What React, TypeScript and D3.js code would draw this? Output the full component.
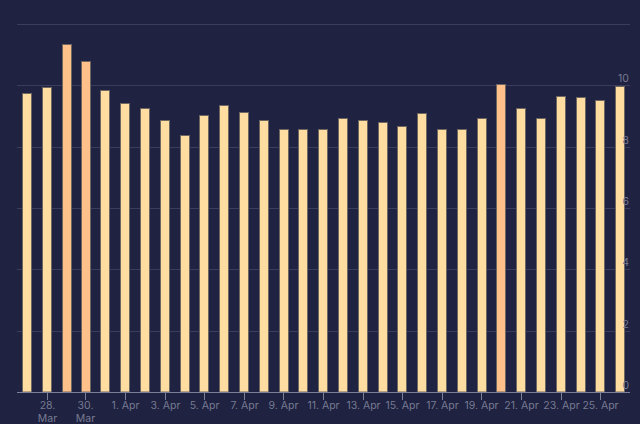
import React from "react";
import * as d3 from "d3";

const DATES = [
  "2020-03-27","2020-03-28","2020-03-29","2020-03-30","2020-03-31",
  "2020-04-01","2020-04-02","2020-04-03","2020-04-04","2020-04-05",
  "2020-04-06","2020-04-07","2020-04-08","2020-04-09","2020-04-10",
  "2020-04-11","2020-04-12","2020-04-13","2020-04-14","2020-04-15",
  "2020-04-16","2020-04-17","2020-04-18","2020-04-19","2020-04-20",
  "2020-04-21","2020-04-22","2020-04-23","2020-04-24","2020-04-25",
  "2020-04-26",
];
const VALUES = [
  9.74, 9.94, 11.34, 10.78, 9.84, 9.41, 9.25, 8.86, 8.39, 9.04,
  9.36, 9.12, 8.86, 8.56, 8.59, 8.56, 8.92, 8.86, 8.80, 8.66,
  9.10, 8.59, 8.56, 8.92, 10.03, 9.25, 8.92, 9.66, 9.63, 9.51,
  9.98,
];
const Y_TICKS = [0, 2, 4, 6, 8, 10, 12];
const Y_LABELS = [0, 2, 4, 6, 8, 10];
const THRESHOLD = 10;
const MONTHS = ["Jan","Feb","Mar","Apr","May","Jun","Jul","Aug","Sep","Oct","Nov","Dec"];

const W = 640, H = 424;
const LEFT = 17, RIGHT = 630, TOP = 24, BOTTOM = 392;
const DAY = 86400000;
const DST_START = Date.UTC(2020, 2, 29, 1); // Europe/London

// local midnight (Europe/London) as a UTC timestamp
function localMidnight(s: string): number {
  const [y, m, d] = s.split("-").map(Number);
  const utc = Date.UTC(y, m - 1, d);
  return utc >= DST_START ? utc - 3600000 : utc;
}

const points = DATES.map((d, i) => ({ date: d, t: localMidnight(d), v: VALUES[i] }));

export default function App() {
  const t0 = points[0].t;
  const t1 = points[points.length - 1].t;
  const x = d3.scaleLinear().domain([t0 - DAY / 2, t1 + DAY / 2]).range([LEFT, RIGHT]);
  const y = d3.scaleLinear().domain([0, 12]).range([BOTTOM, TOP]);
  const dayPx = x(t0 + DAY) - x(t0);
  const barW = dayPx * 0.495;

  const tickDates = DATES.filter((_, i) => i % 2 === 1);
  const font = "Inter, 'DejaVu Sans', sans-serif";
  const labelColor = "#767a92";
  const fs = 10.5;

  return (
    <svg width={W} height={H} style={{ position: "absolute", left: 0, top: 0, display: "block" }}>
      <rect x={0} y={0} width={W} height={H} fill="#1f2240" />
      {Y_TICKS.filter((v) => v > 0).map((v) => (
        <line key={v} x1={LEFT} x2={RIGHT} y1={Math.round(y(v)) + 0.5} y2={Math.round(y(v)) + 0.5}
          stroke="#3a3e5c" strokeWidth={1} />
      ))}
      {points.map((p) => {
        const cx = x(p.t);
        const top = y(p.v);
        return (
          <rect key={p.date}
            x={Math.round(cx - barW / 2) + 0.5} y={Math.round(top) + 0.5}
            width={Math.round(barW) - 1} height={BOTTOM - Math.round(top) - 0.5}
            fill={p.v > THRESHOLD ? "#ffc08a" : "#ffdca0"}
            stroke="#6e6660" strokeWidth={1} />
        );
      })}
      <line x1={LEFT} x2={RIGHT} y1={BOTTOM + 0.5} y2={BOTTOM + 0.5} stroke="#7b8099" strokeWidth={1} />
      {tickDates.map((d) => {
        const t = localMidnight(d);
        const cx = Math.round(x(t)) + 0.5;
        const [, m, day] = d.split("-").map(Number);
        const mon = MONTHS[m - 1];
        const twoLine = mon === "Mar";
        return (
          <g key={d}>
            <line x1={cx} x2={cx} y1={BOTTOM} y2={BOTTOM + 8} stroke="#7b8099" strokeWidth={1} />
            {twoLine ? (
              <text x={cx} y={409} textAnchor="middle" fontFamily={font} fontSize={fs} fill={labelColor}>
                <tspan x={cx}>{`${day}.`}</tspan>
                <tspan x={cx} dy={13}>{mon}</tspan>
              </text>
            ) : (
              <text x={cx} y={409} textAnchor="middle" fontFamily={font} fontSize={fs} fill={labelColor}>
                {`${day}. ${mon}`}
              </text>
            )}
          </g>
        );
      })}
      {Y_LABELS.map((v) => (
        <text key={v} x={629} y={y(v) - 3} textAnchor="end" fontFamily={font} fontSize={fs} fill={labelColor}>
          {v}
        </text>
      ))}
    </svg>
  );
}
